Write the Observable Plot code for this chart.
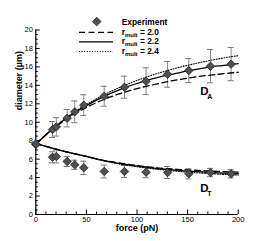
<!DOCTYPE html>
<html><head><meta charset="utf-8">
<script src="https://cdn.jsdelivr.net/npm/d3@7"></script>
<script src="https://cdn.jsdelivr.net/npm/@observablehq/plot@0.6"></script>
<style>body{margin:0;background:#fff} svg{display:block}</style>
</head><body><div id="chart"></div>
<script>
// Experiment data
const expForce = [0, 16.5, 20.3, 31, 38.5, 47.4, 67.6, 87.6, 109, 130.2, 151.2, 172.6, 193];
const expDA    = [7.6, 9.21, 9.5, 10.44, 11.13, 11.85, 12.82, 13.8, 14.45, 15.2, 15.6, 16.08, 16.3];
const expDAerr = [0, 0.87, 1.0, 0.94, 1.18, 1.13, 1.08, 1.2, 1.45, 1.4, 1.3, 1.8, 1.8];
const expDT    = [7.66, 6.2, 6.29, 5.75, 5.39, 5.06, 4.66, 4.66, 4.59, 4.55, 4.41, 4.55, 4.41];
const expDTerr = [0, 0.6, 0.7, 0.55, 0.5, 0.72, 0.7, 0.65, 0.6, 0.65, 0.55, 0.45, 0.45];

// Model curves
const modelForce = [0,10,20,30,40,50,60,70,80,90,100,110,120,130,140,150,160,170,180,190,200];
const DA_20 = [7.6,8.63,9.52,10.31,11.0,11.6,12.13,12.59,12.99,13.34,13.65,13.92,14.17,14.4,14.6,14.78,14.94,15.08,15.2,15.31,15.42];
const DA_22 = [7.6,8.64,9.57,10.4,11.15,11.8,12.4,12.94,13.41,13.83,14.2,14.53,14.83,15.1,15.33,15.56,15.76,15.94,16.1,16.22,16.35];
const DA_24 = [7.6,8.67,9.62,10.47,11.24,11.93,12.55,13.12,13.63,14.1,14.53,14.92,15.28,15.6,15.9,16.17,16.42,16.65,16.86,17.05,17.22];
const DT_20 = [7.7,7.38,7.08,6.8,6.54,6.3,6.04,5.81,5.62,5.45,5.3,5.17,5.06,4.97,4.9,4.84,4.78,4.72,4.67,4.63,4.6];
const DT_22 = [7.7,7.38,7.08,6.8,6.54,6.3,6.02,5.78,5.58,5.4,5.24,5.1,4.98,4.88,4.79,4.71,4.64,4.58,4.52,4.47,4.42];
const DT_24 = [7.7,7.38,7.08,6.8,6.54,6.28,6.0,5.75,5.53,5.34,5.18,5.03,4.9,4.78,4.68,4.6,4.52,4.44,4.38,4.32,4.27];

// Ticks
const xMajor = [0, 50, 100, 150, 200];
const xMinor = [10,20,30,40,60,70,80,90,110,120,130,140,160,170,180,190];
const yMajor = [0,2,4,6,8,10,12,14,16,18,20];
const yMinor = [0.5,1,1.5,2.5,3,3.5,4.5,5,5.5,6.5,7,7.5,8.5,9,9.5,10.5,11,11.5,12.5,13,13.5,14.5,15,15.5,16.5,17,17.5,18.5,19,19.5];

// Legend / labels
const legendExp = "Experiment";
const legendR = ["2.0", "2.2", "2.4"];
const legendDash = ["6,3.5", null, "1,1.6"];
const curveLabels = [{f: 162.5, v: 12.95, main: "D", sub: "A"}, {f: 162.5, v: 2.42, main: "D", sub: "T"}];

const exp = expForce.map((f, i) => ({f, a: expDA[i], ae: expDAerr[i], t: expDT[i], te: expDTerr[i]}));
const errRows = exp.flatMap(d => [
  {f: d.f, lo: d.a - d.ae, hi: d.a + d.ae, e: d.ae},
  {f: d.f, lo: d.t - d.te, hi: d.t + d.te, e: d.te}
]).filter(d => d.e > 0);
const curves = [
  {name: "2.0", dash: legendDash[0], A: DA_20, T: DT_20},
  {name: "2.2", dash: legendDash[1], A: DA_22, T: DT_22},
  {name: "2.4", dash: legendDash[2], A: DA_24, T: DT_24}
];

const W = 271, H = 241, ml = 35.3, mr = 33.3, mt = 29.5, mb = 27;
const pw = W - ml - mr, ph = H - mt - mb;
const font = "Liberation Sans, Arial, Helvetica, sans-serif";

const curveMarks = curves.flatMap(c => {
  const pts = modelForce.map((f, i) => ({f, a: c.A[i], t: c.T[i]}));
  const o = {stroke: "black", strokeWidth: c.dash === "1,1.6" ? 1.1 : 1.3, strokeDasharray: c.dash};
  return [Plot.line(pts, {x: "f", y: "a", curve: "monotone-x", ...o}),
          Plot.line(pts, {x: "f", y: "t", curve: "monotone-x", ...o})];
});

const svg = Plot.plot({
  width: W, height: H, marginLeft: ml, marginRight: mr, marginTop: mt, marginBottom: mb,
  style: {fontFamily: font, background: "white", overflow: "visible"},
  x: {domain: [0, 200]},
  y: {domain: [0, 20]},
  marks: [
    Plot.axisX({ticks: xMajor, tickSize: 0, tickPadding: 2, fontSize: 7.5, label: null}),
    Plot.axisY({ticks: yMajor, tickSize: 0, tickPadding: 3, fontSize: 7.5, label: null}),
    Plot.tickX(xMajor, {x: d => d, insetTop: ph - 4.5, stroke: "black"}),
    Plot.tickX(xMinor, {x: d => d, insetTop: ph - 2.5, stroke: "black"}),
    Plot.tickY(yMajor, {y: d => d, insetRight: pw - 4.5, stroke: "black"}),
    Plot.tickY(yMinor, {y: d => d, insetRight: pw - 2.5, stroke: "black"}),
    Plot.ruleX([0], {stroke: "black", strokeWidth: 1.2}),
    Plot.ruleY([0], {stroke: "black", strokeWidth: 1.2}),
    Plot.text(["force (pN)"], {frameAnchor: "bottom", dy: 16, fontSize: 9, fontWeight: "bold"}),
    Plot.text(["diameter (µm)"], {frameAnchor: "left", rotate: -90, dx: -17, dy: -12, fontSize: 9, fontWeight: "bold"}),
    // error bars
    Plot.ruleX(errRows, {x: "f", y1: "lo", y2: "hi", stroke: "#8a8a8a", strokeWidth: 1}),
    Plot.ruleY(errRows, {y: "lo", x1: "f", x2: "f", insetLeft: -3, insetRight: -3, stroke: "#777", strokeWidth: 1}),
    Plot.ruleY(errRows, {y: "hi", x1: "f", x2: "f", insetLeft: -3, insetRight: -3, stroke: "#777", strokeWidth: 1}),
    ...curveMarks,
    Plot.dot(exp, {x: "f", y: "a", symbol: "diamond2", r: 3.8, fill: "#505050", stroke: "#222", strokeWidth: 0.8}),
    Plot.dot(exp, {x: "f", y: "t", symbol: "diamond2", r: 3.8, fill: "#505050", stroke: "#222", strokeWidth: 0.8}),
    Plot.text(curveLabels, {x: "f", y: "v", text: "main", textAnchor: "start", lineAnchor: "bottom", fontSize: 11.5, fontWeight: "bold"}),
    Plot.text(curveLabels, {x: "f", y: "v", text: "sub", textAnchor: "start", lineAnchor: "bottom", dx: 7, dy: 4, fontSize: 7, fontWeight: "bold"})
  ]
});

// Legend inside the plot area
const g = d3.select(svg).append("g")
  .attr("font-family", font).attr("font-weight", "bold").attr("text-anchor", "start");
g.append("path")
  .attr("d", d3.symbol(d3.symbolDiamond2, 48)())
  .attr("transform", "translate(96.7,21.5)")
  .attr("fill", "#505050").attr("stroke", "#222").attr("stroke-width", 0.8);
g.append("text").attr("x", 121.7).attr("y", 24.5).attr("font-size", 8.4).text(legendExp);
legendR.forEach((r, i) => {
  const y = 32.3 + i * 9.6;
  g.append("line").attr("x1", 79).attr("x2", 113).attr("y1", y).attr("y2", y)
    .attr("stroke", "black").attr("stroke-width", i === 2 ? 1.1 : 1.3)
    .attr("stroke-dasharray", legendDash[i]);
  const t = g.append("text").attr("x", 121.7).attr("y", y + 2.5).attr("font-size", 8.4);
  t.append("tspan").text("r");
  t.append("tspan").attr("font-size", 6).attr("dy", 2).text("mult");
  t.append("tspan").attr("dy", -2).text(" = " + r);
});

document.getElementById("chart").appendChild(svg);
</script>
</body></html>
